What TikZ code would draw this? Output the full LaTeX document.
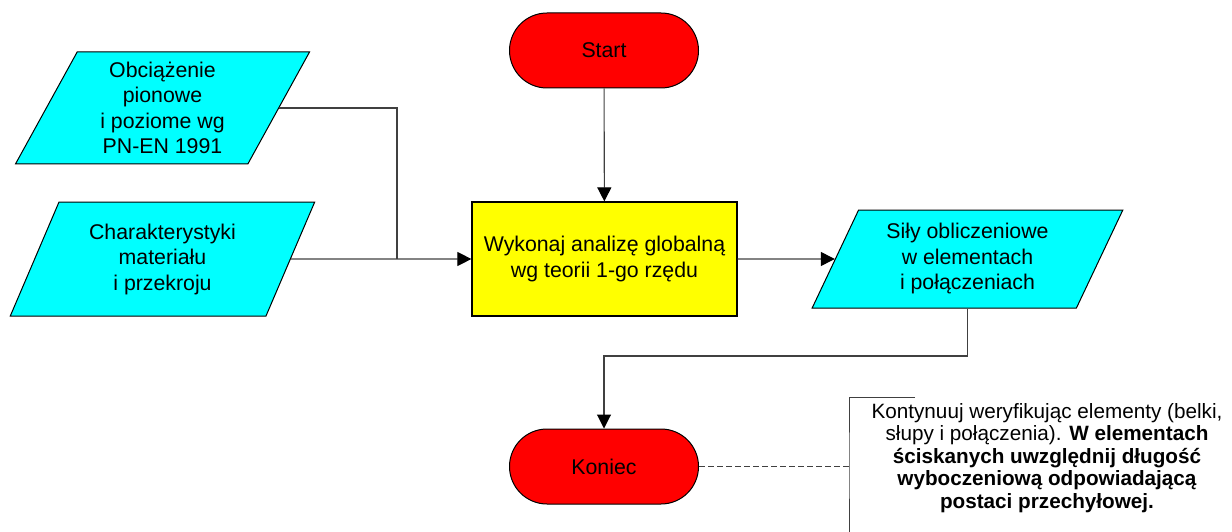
\documentclass[tikz,border=0pt]{standalone}
\usepackage{fontspec}
\setmainfont{Liberation Sans}
\usepackage{tikz}
\usetikzlibrary{shapes.geometric,shapes.misc,arrows.meta}
\definecolor{cyjan}{RGB}{0,255,255}
\definecolor{zolty}{RGB}{255,255,0}
\definecolor{czerwony}{RGB}{255,0,0}
\definecolor{linia}{RGB}{64,64,64}

\begin{document}
\begin{tikzpicture}[x=1pt,y=-1pt,
	font=\fontsize{21.3}{25.5}\selectfont,
	terminal/.style={rounded rectangle,draw,line width=1pt,fill=czerwony,minimum width=189pt,minimum height=75pt,inner sep=0pt},
	dane/.style={trapezium,trapezium left angle=64,trapezium right angle=116,trapezium stretches=true,draw,line width=1pt,fill=cyjan,align=center,inner sep=0pt},
	krok/.style={rectangle,draw,line width=1.2pt,fill=zolty,align=center,minimum width=265pt,minimum height=114pt,inner sep=0pt},
	linka/.style={draw=linia,line width=1.1pt},
	strzalka/.style={linka,-{Triangle[length=14pt,width=14pt,black]}}]
	\useasboundingbox (0,0) rectangle (1232,532);
	\node[terminal] (start) at (604,50.5) {Start};
	\node[krok] (analiza) at (604.5,259) {Wykonaj analizę globalną\\wg teorii 1-go rzędu};
	\node[dane,minimum width=295pt,minimum height=112pt] (obciazenie) at (162.5,108) {Obciążenie\\pionowe\\ i poziome wg\\PN-EN 1991};
	\node[dane,minimum width=305pt,minimum height=114pt] (material) at (162.5,259) {Charakterystyki\\materiału\\ i przekroju};
	\node[dane,minimum width=311pt,minimum height=98pt] (sily) at (967.5,259) {Siły obliczeniowe\\w elementach\\i połączeniach};
	\node[terminal] (koniec) at (604,466.5) {Koniec};
	\node[align=center,font=\fontsize{20.7}{22.5}\selectfont] (uwaga) at (1047,458) {Kontynuuj weryfikując elementy (belki,\\słupy i połączenia). \textbf{W elementach}\\\textbf{ściskanych uwzględnij długość}\\\textbf{wyboczeniową odpowiadającą}\\\textbf{postaci przechyłowej.}};
	\coordinate (zbieg) at (397,259);
	\coordinate (nawias) at (849,466.5);
	\draw[strzalka] (start) -- (analiza);
	\draw[linka] (obciazenie.east) -| (zbieg);
	\draw[strzalka] (material.east) -- (analiza.west);
	\draw[strzalka] (analiza.east) -- (sily.west);
	\draw[strzalka] (sily.south) -- (sily.south |- 0,356) -| (koniec.north);
	\draw[linka,dash pattern=on 6pt off 3pt,line width=1pt] (koniec.east) -- (nawias);
	\draw[linka,line width=1pt] (915,397) -| (nawias) -- (849,532);
\end{tikzpicture}
\end{document}
